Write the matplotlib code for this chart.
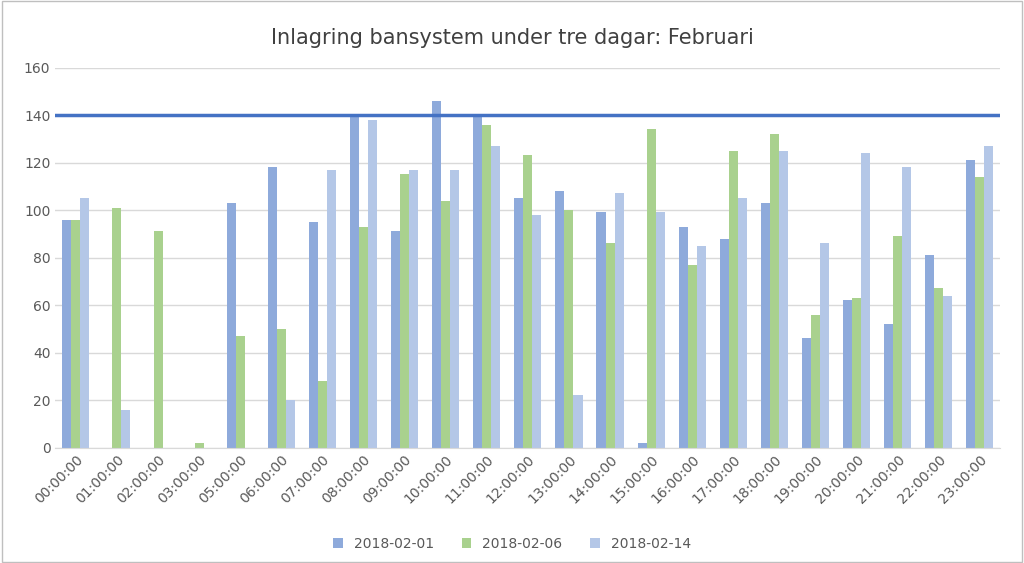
import matplotlib
matplotlib.use("Agg")
import matplotlib.pyplot as plt
import numpy as np

categories = ["00:00:00","01:00:00","02:00:00","03:00:00","05:00:00","06:00:00","07:00:00",
              "08:00:00","09:00:00","10:00:00","11:00:00","12:00:00","13:00:00","14:00:00",
              "15:00:00","16:00:00","17:00:00","18:00:00","19:00:00","20:00:00","21:00:00",
              "22:00:00","23:00:00"]
s0201 = [96,0,0,0,103,118,95,139,91,146,139,105,108,99,2,93,88,103,46,62,52,81,121]
s0206 = [96,101,91,2,47,50,28,93,115,104,136,123,100,86,134,77,125,132,56,63,89,67,114]
s0214 = [105,16,0,0,0,20,117,138,117,117,127,98,22,107,99,85,105,125,86,124,118,64,127]
limit = 140

fig = plt.figure(figsize=(10.24,5.63), dpi=100)
ax = fig.add_axes([0.054, 0.205, 0.923, 0.675])
x = np.arange(len(categories))
w = 0.22
ax.bar(x-w, s0201, w, color="#8eaadb", label="2018-02-01")
ax.bar(x, s0206, w, color="#a9d18e", label="2018-02-06")
ax.bar(x+w, s0214, w, color="#b4c7e7", label="2018-02-14")
ax.axhline(limit, color="#4472c4", lw=2.5, zorder=3)
ax.set_xlim(-0.5, len(categories)-0.5)
ax.set_ylim(0,160)
ax.set_yticks(range(0,161,20))
ax.grid(axis="y", color="#d9d9d9", lw=1)
ax.set_axisbelow(True)
for s in ["top","right","left"]:
    ax.spines[s].set_visible(False)
ax.spines["bottom"].set_color("#d9d9d9")
ax.tick_params(length=0, colors="#595959", labelsize=10)
ax.set_xticks(x)
ax.set_xticklabels(categories, rotation=45, ha="right", rotation_mode="anchor")
fig.suptitle("Inlagring bansystem under tre dagar: Februari", y=0.95, fontsize=15, color="#404040")
fig.legend(loc="lower center", ncol=3, frameon=False, fontsize=10, bbox_to_anchor=(0.5,0.0),
           handlelength=0.7, handleheight=0.7, labelcolor="#595959")
fig.patches.append(plt.Rectangle((0.002,0.002),0.996,0.996, transform=fig.transFigure,
                                 fill=False, edgecolor="#bfbfbf", lw=1))
fig.savefig("out.png", dpi=100)
